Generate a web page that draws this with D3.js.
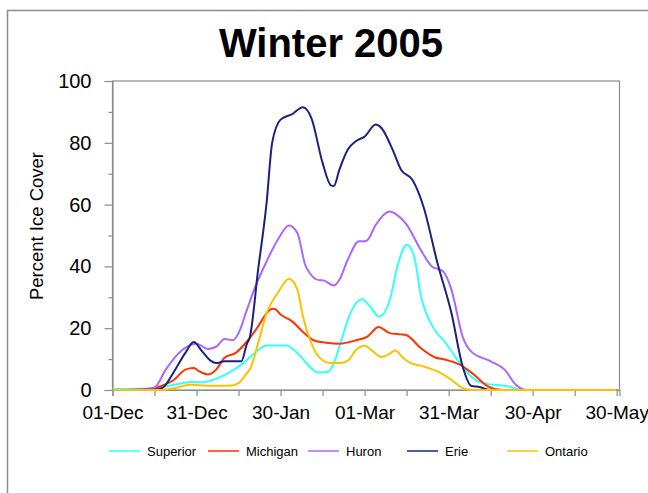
<!DOCTYPE html>
<html>
<head>
<meta charset="utf-8">
<script src="https://cdn.jsdelivr.net/npm/d3@7"></script>
<style>
  body { margin: 0; background: #fff; }
  svg { display: block; font-family: "Liberation Sans", Arial, sans-serif; }
</style>
</head>
<body>
<div id="chart"></div>
<script>
// days since 01-Dec-2004, percent ice cover
const superior = [[0,0.3],[10,0.4],[15,0.6],[19,1.2],[24,2],[28,2.6],[32,2.5],[36,3.3],[41,5.3],[46,8.2],[50,11.4],[55,14.4],[62,14.4],[66,12],[71,7],[73,5.7],[77,5.8],[79,8.7],[82,17],[85,25],[89,29.4],[92,27],[95,23.8],[96,24],[99,29.2],[102,41],[105,47],[106,46.5],[108,42],[110,31],[114,21],[119,15.2],[124,8.7],[128,4.4],[132,2.3],[141,1.2],[147,0],[180,0]];
const michigan = [[0,0],[13,0.2],[17,1.2],[22,3.3],[26,6.6],[29,7.1],[31,6],[34,5],[37,6.6],[40,10.4],[44,12],[48,15.7],[52,20.6],[55,24.8],[57,26.3],[58,26.2],[60,24.4],[64,22.3],[68,18.8],[72,16],[77,15.2],[81,15],[87,16.1],[91,17.3],[95,20.4],[99,18.4],[103,18],[105,17.7],[110,13.6],[115,10.6],[119,9.8],[124,8.2],[129,5],[134,1.2],[139,0],[180,0]];
const huron = [[0,0],[10,0.2],[15,0.8],[19,6.6],[25,13],[30,15],[34,13.3],[37,14],[40,16.5],[43,16.1],[45,18.4],[48,26],[51,33.5],[55,41.6],[59,48.6],[63,53.2],[66,50.8],[69,40],[74,35.5],[75,35.5],[79,33.8],[81,35.7],[84,42.2],[88,48.1],[90,48.1],[91,48.5],[94,53.5],[99,57.8],[101,57],[105,53.5],[110,45.4],[114,40],[118,38.4],[121,32.5],[125,17.3],[128,12.5],[135,9.3],[140,6.6],[144,1.7],[148,0],[180,0]];
const erie = [[0,0],[15,0.1],[18,0.8],[22,6],[26,12],[29,15.5],[32,12.5],[35,9.5],[37,8.7],[40,9.3],[46,9.3],[48,15],[49,17],[52,39],[55,60.5],[57,80],[60,87.5],[64,89.2],[68,91.5],[71,88],[75,73.5],[78,66.2],[79,66],[81,71.3],[84,77.8],[87,80.6],[90,82],[94,85.9],[96,84.8],[100,77.8],[103,71.3],[107,68.1],[111,59.4],[116,41.1],[121,24.9],[125,7.6],[128,1.4],[131,1],[135,0],[180,0]];
const ontario = [[0,0],[18,0],[22,0.6],[28,1.7],[34,1.4],[42,1.4],[45,2.2],[48,5.5],[49,6.6],[52,15.2],[55,24.9],[59,31.4],[63,36],[66,32.5],[68,23.8],[71,15.2],[74,10.4],[78,8.7],[81,8.7],[84,9.5],[87,13],[90,14.3],[93,12.5],[96,10.7],[98.5,11.5],[101,12.8],[103.4,10.7],[106,8.9],[110,7.9],[116,6],[121,3.3],[125,0.6],[128,0],[180,0]];

const lakeNames = ["Superior", "Michigan", "Huron", "Erie", "Ontario"];
const lakeColors = ["#33ffff", "#ff3300", "#aa66ff", "#1a237e", "#ffc000"];
const yTicks = [0, 20, 40, 60, 80, 100];
const xTickLabels = ["01-Dec", "31-Dec", "30-Jan", "01-Mar", "31-Mar", "30-Apr", "30-May"];

const start = new Date(2004, 11, 1);
const end = new Date(2005, 4, 31);
const width = 648, height = 493;
const plot = { left: 112.5, right: 619.5, top: 81, bottom: 390 };

const svg = d3.select("#chart").append("svg")
  .attr("width", width)
  .attr("height", height);

// outer frame (top and left only, like the source)
svg.append("path")
  .attr("d", `M7.5,${height} V10.5 H${width}`)
  .attr("fill", "none")
  .attr("stroke", "#8c8c8c")
  .attr("stroke-width", 1.5);

svg.append("text")
  .attr("x", 331)
  .attr("y", 57)
  .attr("text-anchor", "middle")
  .attr("font-size", "40px")
  .attr("font-weight", "bold")
  .text("Winter 2005");

const x = d3.scaleTime().domain([start, end]).range([plot.left, plot.right]);
const y = d3.scaleLinear().domain([0, 100]).range([plot.bottom, plot.top]);

// plot border
svg.append("rect")
  .attr("x", plot.left)
  .attr("y", plot.top)
  .attr("width", plot.right - plot.left)
  .attr("height", plot.bottom - plot.top)
  .attr("fill", "none")
  .attr("stroke", "#8c8c8c")
  .attr("stroke-width", 1.2);

// y axis: major + minor ticks
svg.append("g")
  .attr("class", "y-axis")
  .attr("transform", `translate(${plot.left},0)`)
  .call(d3.axisLeft(y).tickValues(yTicks).tickSize(8).tickPadding(13).tickFormat(d3.format("d")));
svg.append("g")
  .attr("transform", `translate(${plot.left},0)`)
  .call(d3.axisLeft(y).tickValues([10, 30, 50, 70, 90]).tickSize(4).tickFormat(""))
  .call(g => g.select(".domain").remove());

// x axis: label every 30 days, ticks every 15
const labelDates = xTickLabels.map((d, i) => d3.timeDay.offset(start, i * 30));
const minorDates = labelDates.slice(0, -1).map(d => d3.timeDay.offset(d, 15));
svg.append("g")
  .attr("class", "x-axis")
  .attr("transform", `translate(0,${plot.bottom})`)
  .call(d3.axisBottom(x).tickValues(labelDates.concat(minorDates)).tickSize(6).tickPadding(10)
    .tickFormat(d => {
      const i = labelDates.findIndex(l => +l === +d);
      return i < 0 ? "" : xTickLabels[i];
    }));

svg.selectAll(".domain").attr("stroke", "#8c8c8c").attr("stroke-width", 1.2);
svg.selectAll(".tick line").attr("stroke", "#8c8c8c").attr("stroke-width", 1.2);
svg.selectAll(".tick text")
  .attr("fill", "#000")
  .attr("font-family", "Liberation Sans, Arial, sans-serif")
  .attr("font-size", "20px");
svg.selectAll(".x-axis .tick text").attr("font-size", "19px");

svg.append("text")
  .attr("transform", `translate(43,226) rotate(-90)`)
  .attr("text-anchor", "middle")
  .attr("font-size", "18.5px")
  .text("Percent Ice Cover");

// lines
const line = d3.line()
  .x(d => x(d3.timeDay.offset(start, 0).getTime() + d[0] * 864e5))
  .y(d => y(d[1]))
  .curve(d3.curveMonotoneX);

const series = [superior, michigan, huron, erie, ontario];
svg.append("g").selectAll("path")
  .data(series)
  .enter().append("path")
  .attr("d", line)
  .attr("fill", "none")
  .attr("stroke", (d, i) => lakeColors[i])
  .attr("stroke-width", 2);

// legend
const legendX = [109, 208, 308, 407, 507];
const legend = svg.append("g").selectAll("g")
  .data(lakeNames)
  .enter().append("g")
  .attr("transform", (d, i) => `translate(${legendX[i]},451)`);
legend.append("line")
  .attr("x1", 0).attr("x2", 31)
  .attr("stroke", (d, i) => lakeColors[i])
  .attr("stroke-width", 1.5);
legend.append("text")
  .attr("x", 38)
  .attr("dy", "0.35em")
  .attr("font-size", "13px")
  .text(d => d);
</script>
</body>
</html>
